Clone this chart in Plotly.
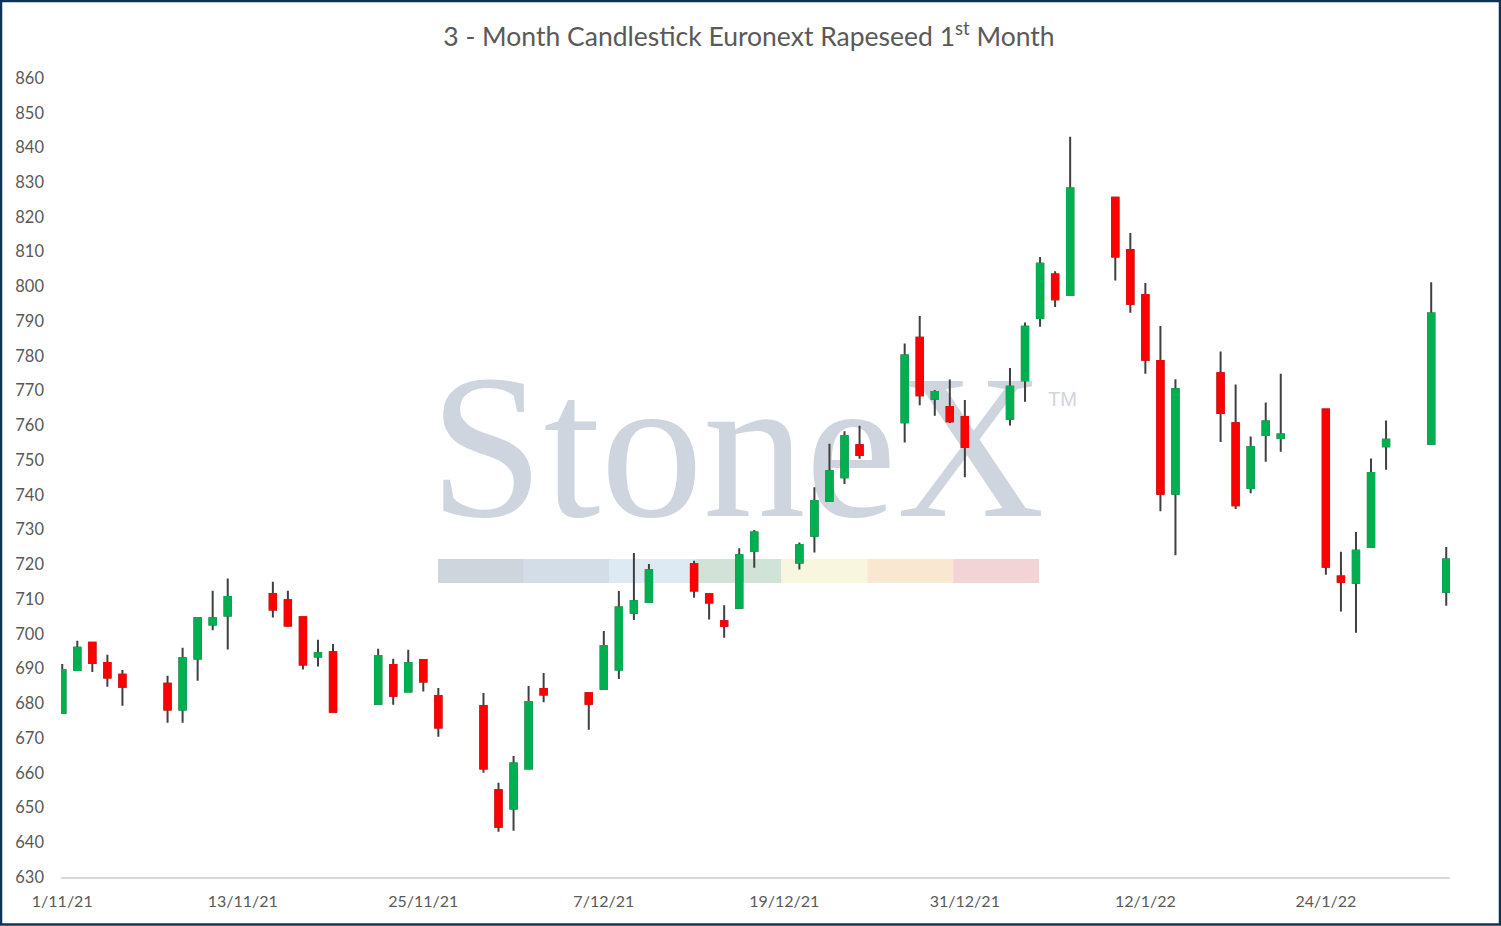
import plotly.graph_objects as go

# ---------------- data ----------------
dates = [
    "2021-11-01", "2021-11-02", "2021-11-03", "2021-11-04", "2021-11-05",
    "2021-11-08", "2021-11-09", "2021-11-10", "2021-11-11", "2021-11-12",
    "2021-11-15", "2021-11-16", "2021-11-17", "2021-11-18", "2021-11-19",
    "2021-11-22", "2021-11-23", "2021-11-24", "2021-11-25", "2021-11-26",
    "2021-11-29", "2021-11-30", "2021-12-01", "2021-12-02", "2021-12-03",
    "2021-12-06", "2021-12-07", "2021-12-08", "2021-12-09", "2021-12-10",
    "2021-12-13", "2021-12-14", "2021-12-15", "2021-12-16", "2021-12-17",
    "2021-12-20", "2021-12-21", "2021-12-22", "2021-12-23", "2021-12-24",
    "2021-12-27", "2021-12-28", "2021-12-29", "2021-12-30", "2021-12-31",
    "2022-01-03", "2022-01-04", "2022-01-05", "2022-01-06", "2022-01-07",
    "2022-01-10", "2022-01-11", "2022-01-12", "2022-01-13", "2022-01-14",
    "2022-01-17", "2022-01-18", "2022-01-19", "2022-01-20", "2022-01-21",
    "2022-01-24", "2022-01-25", "2022-01-26", "2022-01-27", "2022-01-28",
    "2022-01-31", "2022-02-01",
]
open_ = [
    677.2, 689.6, 697.4, 691.6, 688.2,
    685.6, 678.2, 692.9, 702.7, 705.3,
    711.5, 709.7, 704.8, 693.5, 694.7,
    679.9, 691.0, 683.4, 692.5, 682.1,
    679.2, 655.0, 649.7, 661.2, 684.1,
    682.9, 684.2, 689.7, 706.1, 709.2,
    720.0, 711.4, 703.6, 707.5, 723.9,
    720.5, 728.2, 738.3, 745.1, 754.3,
    760.9, 785.2, 767.7, 765.3, 762.4,
    761.9, 773.0, 790.9, 803.4, 797.5,
    825.5, 810.5, 797.5, 778.5, 740.3,
    775.0, 760.6, 742.0, 757.2, 756.4,
    764.6, 716.5, 714.7, 725.1, 754.0,
    754.7, 712.1,
]
high = [
    691.3, 698.0, 697.5, 694.0, 689.6,
    687.9, 696.0, 704.8, 712.4, 715.9,
    715.0, 712.4, 705.0, 698.3, 697.1,
    695.7, 692.8, 695.4, 692.6, 684.4,
    683.0, 657.1, 664.8, 685.0, 688.7,
    683.2, 700.8, 712.3, 723.3, 720.1,
    721.0, 711.7, 708.2, 724.6, 729.9,
    726.3, 742.2, 754.7, 758.3, 759.9,
    783.6, 791.5, 770.2, 773.2, 767.3,
    776.5, 789.6, 808.5, 804.4, 843.1,
    825.6, 815.4, 801.0, 788.6, 773.3,
    781.3, 771.8, 756.8, 766.6, 774.9,
    764.7, 723.6, 729.3, 750.5, 761.4,
    801.2, 725.0,
]
low = [
    677.0, 689.5, 689.0, 684.8, 679.3,
    674.4, 674.4, 686.5, 701.0, 695.5,
    704.7, 702.0, 689.7, 690.6, 677.3,
    679.6, 679.6, 683.2, 683.4, 670.4,
    660.0, 643.0, 643.3, 661.0, 680.3,
    672.4, 684.0, 687.0, 704.0, 709.0,
    710.4, 704.1, 698.9, 707.3, 719.0,
    718.5, 723.4, 738.2, 743.1, 750.4,
    755.1, 765.8, 762.8, 760.7, 745.1,
    760.0, 766.8, 788.4, 794.1, 797.4,
    801.7, 792.4, 774.9, 735.3, 722.6,
    755.2, 735.9, 740.5, 749.5, 752.4,
    717.0, 706.4, 700.3, 725.0, 747.2,
    754.6, 708.1,
]
close = [
    689.6, 696.0, 691.6, 687.4, 684.8,
    678.2, 693.0, 704.5, 704.5, 710.6,
    707.0, 702.4, 691.2, 694.4, 677.6,
    693.6, 682.2, 691.5, 686.3, 673.0,
    661.2, 644.5, 662.7, 680.4, 682.5,
    679.9, 696.5, 707.6, 709.4, 718.3,
    712.5, 709.0, 702.3, 722.6, 729.2,
    725.5, 738.2, 746.8, 756.9, 751.5,
    780.1, 768.7, 769.6, 761.2, 753.8,
    771.1, 788.4, 806.5, 796.3, 828.2,
    808.6, 795.0, 778.9, 740.3, 770.4,
    763.6, 737.0, 753.7, 761.1, 757.4,
    719.3, 715.0, 723.9, 746.3, 755.9,
    792.2, 721.4,
]

title_text = "3 - Month Candlestick Euronext Rapeseed 1<sup>st</sup> Month"
y_range = [630, 860]
y_step = 10
x_tick_start = "2021-11-01"
x_tick_step_days = 12
x_range = ["2021-10-31 22:00", "2022-02-01 06:00"]

# ---------------- styles ----------------
GREEN = "#00B050"
RED = "#FF0000"
WICK = "#404040"
TEXT = "#595959"
FONT = "Lato"
WM_COLOR = "#CED5DE"
BAR_COLORS = ["#CFD5DD", "#D3DDE8", "#DDE9F3", "#D1E2D7",
              "#F8F6DE", "#F9E7D1", "#F2D3D6"]

W, H = 1501, 926
ML, MR, MT, MB = 61, 51, 78, 49
PW, PH = W - ML - MR, H - MT - MB


def px_x(px):
    return (px - ML) / PW


def px_y(py):
    return (H - MB - py) / PH


body_high = [max(o, c) for o, c in zip(open_, close)]
body_low = [min(o, c) for o, c in zip(open_, close)]

fig = go.Figure()
# wicks (dark grey)
fig.add_trace(go.Candlestick(
    x=dates, open=open_, high=high, low=low, close=close,
    increasing=dict(line=dict(color=WICK, width=2), fillcolor=WICK),
    decreasing=dict(line=dict(color=WICK, width=2), fillcolor=WICK),
    whiskerwidth=0, hoverinfo="skip", showlegend=False, name="wick",
))
# bodies (green / red)
fig.add_trace(go.Candlestick(
    x=dates, open=open_, high=body_high, low=body_low, close=close,
    increasing=dict(line=dict(color=GREEN, width=2), fillcolor=GREEN),
    decreasing=dict(line=dict(color=RED, width=2), fillcolor=RED),
    whiskerwidth=0, showlegend=False, name="Rapeseed",
))

shapes = []
# watermark word (drawn below the candles)
shapes.append(dict(
    type="rect", xref="paper", yref="paper",
    x0=px_x(434), x1=px_x(1040), y0=px_y(493), y1=px_y(356),
    line=dict(width=0), fillcolor="rgba(0,0,0,0)", layer="below",
    label=dict(text="StoneX", textposition="middle center",
               font=dict(family="Liberation Serif", size=205, color=WM_COLOR)),
))
# watermark colour bar
seg_w = (1039 - 438) / len(BAR_COLORS)
for i, col in enumerate(BAR_COLORS):
    shapes.append(dict(
        type="rect", xref="paper", yref="paper",
        x0=px_x(438 + i * seg_w), x1=px_x(438 + (i + 1) * seg_w),
        y0=px_y(583), y1=px_y(559),
        line=dict(width=0), fillcolor=col, layer="below",
    ))
# outer border
shapes.append(dict(
    type="rect", xref="paper", yref="paper",
    x0=px_x(1), x1=px_x(W - 1), y0=px_y(H - 1.5), y1=px_y(1),
    line=dict(color="#0E3356", width=2.5), fillcolor="rgba(0,0,0,0)", layer="above",
))

fig.update_layout(
    width=W, height=H,
    margin=dict(l=ML, r=MR, t=MT, b=MB, pad=0),
    paper_bgcolor="white", plot_bgcolor="white",
    showlegend=False,
    boxgap=0.4,
    title=dict(text=title_text, x=0.499, xanchor="center", xref="container",
               y=1 - 37 / H, yanchor="middle", yref="container",
               font=dict(family=FONT, size=26.5, color=TEXT)),
    shapes=shapes,
    annotations=[dict(
        text="TM", xref="paper", yref="paper",
        x=px_x(1046), y=px_y(399), xanchor="left", yanchor="middle",
        showarrow=False, font=dict(family="Liberation Sans", size=20, color=WM_COLOR),
    )],
    hovermode="x",
)
fig.update_xaxes(
    type="date", range=x_range, tick0=x_tick_start,
    dtick=x_tick_step_days * 86400000, tickformat="%-d/%-m/%y",
    showgrid=False, zeroline=False, showline=True, linecolor="#D9D9D9", linewidth=2,
    ticks="", ticklabelstandoff=9,
    tickfont=dict(family=FONT, size=16, color=TEXT),
    rangeslider=dict(visible=False), fixedrange=True,
)
fig.update_yaxes(
    range=y_range, tick0=y_range[0], dtick=y_step,
    showgrid=False, zeroline=False, showline=False, ticks="",
    ticklabelstandoff=16,
    tickfont=dict(family=FONT, size=16.5, color=TEXT), fixedrange=True,
)

fig.write_html(
    "out.html",
    config={"displayModeBar": False},
    post_script="document.body.style.margin='0';document.body.style.overflow='hidden';",
)
